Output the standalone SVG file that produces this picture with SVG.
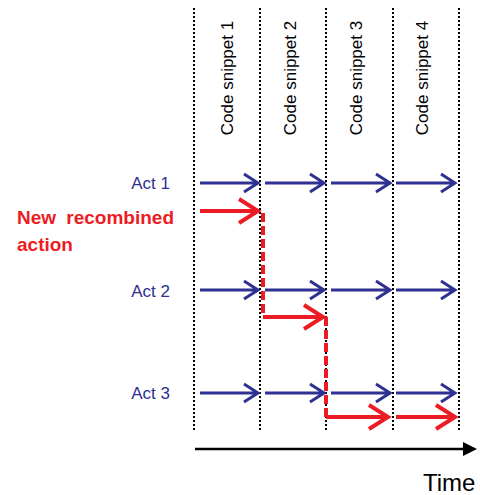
<svg xmlns="http://www.w3.org/2000/svg" width="480" height="495" viewBox="0 0 480 495">
<style>
.grid{stroke:#000;stroke-width:2;stroke-dasharray:2 2;fill:none}
.snip{font-family:"Liberation Sans",Arial,sans-serif;font-size:17px;fill:#000;text-anchor:middle}
.act{font-family:"Liberation Sans",Arial,sans-serif;font-size:17px;fill:#2E3192;text-anchor:end}
.new{font-family:"Liberation Sans",Arial,sans-serif;font-size:19px;font-weight:bold;fill:#ED1C24}
.b{stroke:#2E3192;stroke-width:3;fill:none}
.r{stroke:#ED1C24;stroke-width:4;fill:none}
.rd{stroke:#ED1C24;stroke-width:4;fill:none;stroke-dasharray:9 4}
</style>
<rect width="480" height="495" fill="#fff"/>
<g id="grid">
<line class="grid" x1="194" y1="8" x2="194" y2="430"/>
<line class="grid" x1="260" y1="8" x2="260" y2="430"/>
<line class="grid" x1="326" y1="8" x2="326" y2="430"/>
<line class="grid" x1="393" y1="8" x2="393" y2="430"/>
<line class="grid" x1="459" y1="8" x2="459" y2="430"/>
</g>
<g id="snippet1"><text class="snip" transform="translate(233,78) rotate(-90)">Code snippet 1</text></g>
<g id="snippet2"><text class="snip" transform="translate(296,78) rotate(-90)">Code snippet 2</text></g>
<g id="snippet3"><text class="snip" transform="translate(362,78) rotate(-90)">Code snippet 3</text></g>
<g id="snippet4"><text class="snip" transform="translate(428,78) rotate(-90)">Code snippet 4</text></g>
<g id="act1"><text class="act" x="170" y="189">Act 1</text></g>
<g id="act2"><text class="act" x="170" y="297">Act 2</text></g>
<g id="act3"><text class="act" x="170" y="399">Act 3</text></g>
<g id="newaction">
<text class="new" x="17" y="224" style="word-spacing:5px">New recombined</text>
<text class="new" x="17" y="251">action</text>
</g>
<g id="connectors">
<path class="b" d="M200 183H258M244 174L258 183L244 192"/>
<path class="b" d="M265 183H324M310 174L324 183L310 192"/>
<path class="b" d="M331 183H390M376 174L390 183L376 192"/>
<path class="b" d="M396 183H455M441 174L455 183L441 192"/>
<path class="b" d="M200 290H258M244 281L258 290L244 299"/>
<path class="b" d="M265 290H324M310 281L324 290L310 299"/>
<path class="b" d="M331 290H390M376 281L390 290L376 299"/>
<path class="b" d="M396 290H455M441 281L455 290L441 299"/>
<path class="b" d="M200 393H258M244 384L258 393L244 402"/>
<path class="b" d="M265 393H324M310 384L324 393L310 402"/>
<path class="b" d="M331 393H390M376 384L390 393L376 402"/>
<path class="b" d="M396 393H455M441 384L455 393L441 402"/>
<path class="r" d="M200 211H258M239 199L258 211L239 223"/>
<path class="rd" d="M263 213V317"/>
<path class="r" d="M263 317H323M304 305L323 317L304 329"/>
<path class="rd" d="M326 317V417"/>
<path class="r" d="M326 417H388M369 405L388 417L369 429"/>
<path class="r" d="M396 417H455M436 405L455 417L436 429"/>
<line x1="195" y1="449" x2="465" y2="449" stroke="#000" stroke-width="2.5"/>
<polygon points="463,442 477,449 463,456" fill="#000"/>
</g>
<g id="time"><text x="423" y="491" style="font-family:'Liberation Sans',Arial,sans-serif;font-size:24px;fill:#000">Time</text></g>
</svg>
